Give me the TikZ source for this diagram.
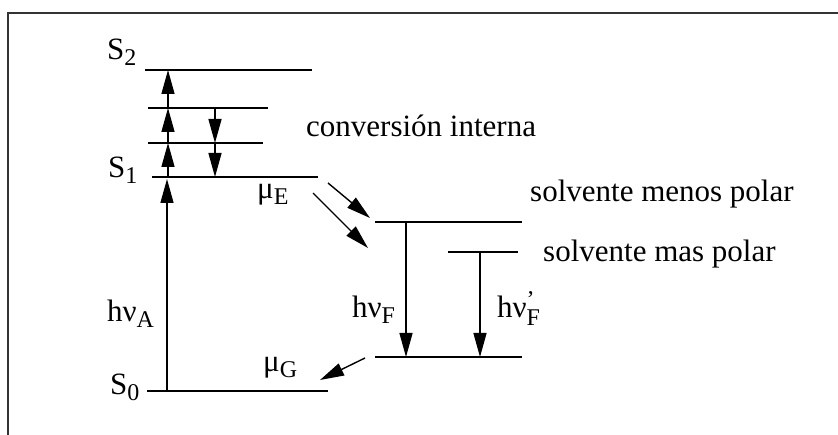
\documentclass[tikz,border=0pt]{standalone}
\usepackage{fontspec}
\setmainfont{Liberation Serif}
\usetikzlibrary{arrows.meta}
\newcommand{\lsub}[1]{\raisebox{-6pt}{\fontsize{24}{24}\selectfont #1}}
\begin{document}
\begin{tikzpicture}[x=1pt,y=-1pt,
  level/.style={line width=1.9pt},
  arr/.style={line width=1.4pt,-{Triangle[length=24pt,width=13pt]}},
  lbl/.style={anchor=base west,inner sep=0pt,font=\fontsize{31}{37}\selectfont}]
\useasboundingbox (0,0) rectangle (838,435);
\draw[line width=2.2pt, black!80] (8,435) -- (8,13) -- (838,13);
% levels
\coordinate (s2l) at (145,70);  \coordinate (s2r) at (312,70);
\coordinate (v2l) at (148,108); \coordinate (v2r) at (268,108);
\coordinate (v1l) at (148,143); \coordinate (v1r) at (263,143);
\coordinate (s1l) at (152,177); \coordinate (s1r) at (318,177);
\coordinate (s0l) at (147,391); \coordinate (s0r) at (328,391);
\coordinate (mpl) at (375,222); \coordinate (mpr) at (522,222);
\coordinate (spl) at (448,252); \coordinate (spr) at (518,252);
\coordinate (gl) at (375,357);  \coordinate (gr) at (522,357);
\draw[level] (s2l) -- (s2r);
\draw[level] (v2l) -- (v2r);
\draw[level] (v1l) -- (v1r);
\draw[level] (s1l) -- (s1r);
\draw[level] (s0l) -- (s0r);
\draw[level] (mpl) -- (mpr);
\draw[level] (spl) -- (spr);
\draw[level] (gl) -- (gr);
% arrow end points
\coordinate (u0) at (168,177); \coordinate (u1) at (168,143);
\coordinate (u2) at (168,108); \coordinate (u3) at (168,70);
\coordinate (la) at (167,391); \coordinate (lb) at (167,179);
\coordinate (d0) at (215,108); \coordinate (d1) at (215,143); \coordinate (d2) at (215,177);
\coordinate (e1a) at (328,183); \coordinate (e1b) at (370,218);
\coordinate (e2a) at (313,193); \coordinate (e2b) at (368,248);
\coordinate (fa) at (406,222); \coordinate (fb) at (406,357);
\coordinate (ga) at (480,252); \coordinate (gb) at (480,357);
\coordinate (ma) at (365,358); \coordinate (mb) at (320,380);
\draw[arr] (u0) -- (u1);
\draw[arr] (u1) -- (u2);
\draw[arr] (u2) -- (u3);
\draw[arr] (la) -- (lb);
\draw[arr] (d0) -- (d1);
\draw[arr] (d1) -- (d2);
\draw[arr] (e1a) -- (e1b);
\draw[arr] (e2a) -- (e2b);
\draw[arr] (fa) -- (fb);
\draw[arr] (ga) -- (gb);
\draw[arr] (ma) -- (mb);
% labels
\node[lbl] (tS2) at (107,60) {S\lsub{2}};
\node[lbl] (tS1) at (108,178) {S\lsub{1}};
\node[lbl] (tS0) at (110,395) {S\lsub{0}};
\node[lbl] (thA) at (107,322) {hν\lsub{A}};
\node[lbl] (tmE) at (257,199) {μ\lsub{E}};
\node[lbl] (tmG) at (263,372) {μ\lsub{G}};
\node[lbl] (thF) at (352,318) {hν\lsub{F}};
\node[lbl] (thFp) at (497,318) {hν\rlap{\raisebox{10pt}{\fontsize{24}{24}\selectfont\symbol{39}}}\raisebox{-8pt}{\fontsize{24}{24}\selectfont F}};
\node[lbl] (tci) at (306,137) {conversión interna};
\node[lbl] (tmp) at (530,202) {solvente menos polar};
\node[lbl] (tsp) at (543,262) {solvente mas polar};
\end{tikzpicture}
\end{document}
